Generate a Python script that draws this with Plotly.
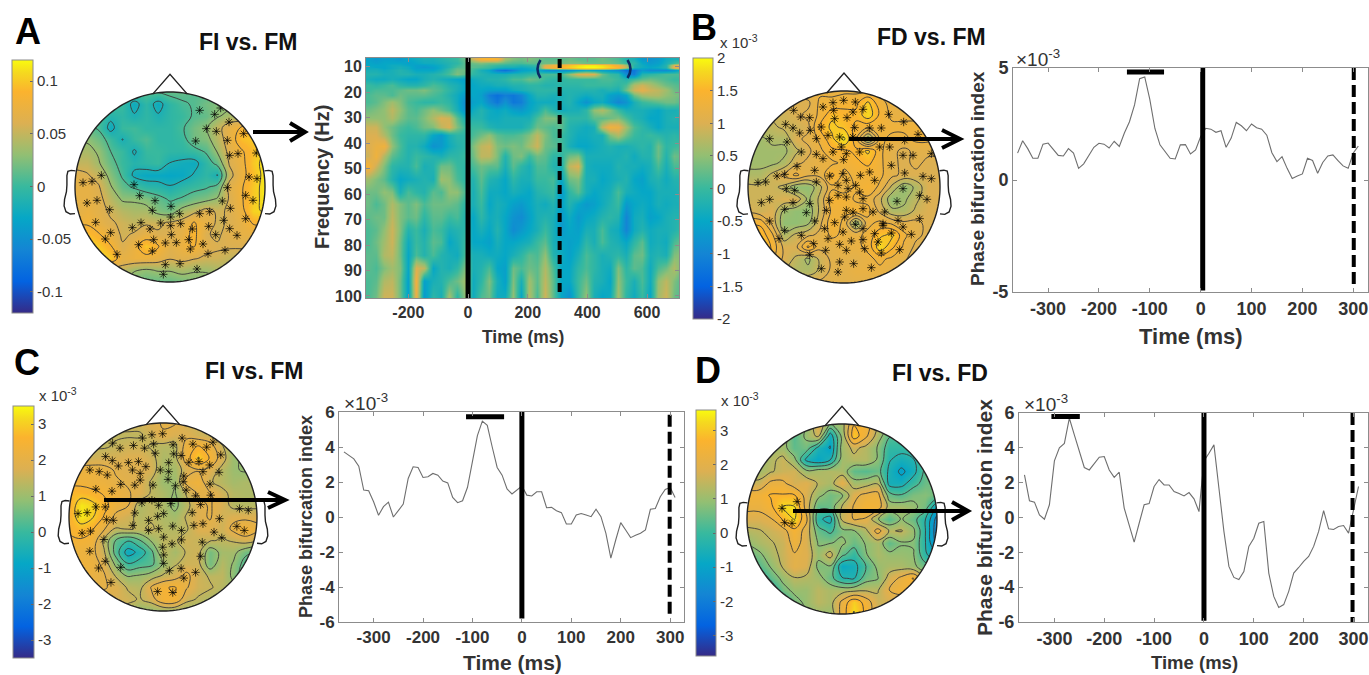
import numpy as np
import plotly.graph_objects as go

W, H = 1369, 675
PARULA = [[0, '#352a87'], [0.125, '#0363e1'], [0.25, '#1485d4'], [0.375, '#06a7c6'], [0.5, '#38b99e'],
          [0.625, '#92bf73'], [0.75, '#dcb052'], [0.875, '#fbb32e'], [0.95, '#f5d91f'], [1, '#f9fb0e']]
FONT = "Liberation Sans, Arial, sans-serif"
AXC = '#8c8c8c'
TXT = '#333333'

# ---------- time courses (x 10^-3), 10 ms steps from -360 ms ----------
TIME = list(range(-360, 320, 10))
PBI_B = [1.2,1.75,1.4,.97,.97,1.6,1.65,1.37,1.1,1.07,1.4,1.2,.52,.72,1.1,1.46,1.64,1.6,1.43,1.73,1.5,2.1,2.6,3.35,
         4.52,4.6,3.6,2.3,1.57,1.27,.97,.94,1.57,1.58,1.16,1.34,1.94,2.31,2.27,2.13,2.2,1.46,1.87,2.57,2.42,2.2,2.5,
         2.33,2.27,2.0,1.22,.82,1.04,.52,.07,.18,.27,.97,.87,.3,.78,1.07,1.12,.87,.63,.52,1.2,1.52]
PBI_C = [3.72,3.5,3.32,2.9,1.54,1.5,.87,.1,.59,.85,0,.36,.74,2.2,2.87,2.83,2.26,2.3,2.49,2.39,2.05,1.95,1.12,.82,.93,
         1.7,3.1,4.65,5.48,5.24,4.0,2.83,2.39,1.6,1.32,1.55,1.77,1.25,1.2,1.44,1.44,.53,.55,.36,.25,-.4,-.4,.11,.2,.11,
         .02,.44,.02,-.93,-2.35,-1.3,-.32,-.74,-1.18,-1.04,-.93,-.74,.44,.49,1.16,1.57,1.69,1.12]
PBI_D = [2.45,.96,.88,.15,-.1,.73,3.25,4.0,4.25,5.7,4.74,3.79,2.87,2.73,3.12,3.46,3.5,2.73,2.31,2.6,.54,-.38,-1.41,-.33,
         .73,.8,1.78,2.18,1.87,1.87,1.49,1.38,1.24,1.43,1.07,.34,3.25,3.69,4.17,1.68,-.8,-2.81,-3.44,-3.56,-3.1,-1.66,
         -1.19,-.33,-.23,-3.19,-4.53,-5.16,-5.0,-4.24,-3.19,-2.87,-2.52,-2.24,-1.66,-.8,.4,-.65,-.69,-.52,-.46,-.9,.54,1.78]

# ---------- time-frequency map (tenths of 10^-3) ----------
TF_TIME = [-335 + 27 * i for i in range(40)]
TF_FREQ = [7, 8.5, 9.2, 10, 10.7, 11.5, 13, 15, 17, 19, 21, 24, 27, 30, 33.5, 37, 41, 45, 49, 54, 59, 64, 69, 74, 79, 84, 89, 94, 100]
TF_Z = [
 [-6,-7,-6,-6,-7,-5,-4,-3,-3,-2,-1,0,3,9,14,15,14,6,4,3,4,3,2,2,2,3,2,2,2,3,2,1,-2,-3,-7,-8,-7,-4,-3,-3],
 [-5,-6,-5,-5,-5,-6,-5,-4,-4,-3,-2,-1,2,3,4,3,3,2,1,1,2,2,3,3,3,4,4,3,3,3,3,2,0,-1,-5,-7,-6,-3,0,3],
 [-5,-5,-5,-4,-4,-5,-6,-6,-5,-4,-2,0,2,2,2,1,0,-1,-1,-2,-1,0,10,13,14,16,18,19,19,18,16,13,6,-2,-4,-6,-5,-2,10,12],
 [-4,-5,-5,-4,-3,-4,-6,-7,-6,-4,-2,1,2,2,1,0,-2,-3,-3,-4,-3,-2,12,14,15,17,19,20,20,19,17,15,8,-2,-4,-5,-4,-2,12,13],
 [-4,-4,-5,-4,-3,-4,-6,-6,-6,-4,-1,2,2,1,0,-1,-4,-5,-5,-5,-4,-2,9,12,13,15,17,18,18,17,15,12,4,-4,-5,-6,-5,-3,9,11],
 [-3,-3,-4,-3,-2,-3,-5,-5,-5,-3,0,3,3,0,-3,-5,-11,-13,-10,-6,-5,-4,-8,-9,-9,-8,-6,-4,-5,-6,-7,-9,-13,-12,-7,-9,-9,-9,-7,-3],
 [-2,-2,-3,-3,-2,-2,-3,-3,-2,-1,1,4,2,-1,-2,-3,-3,-3,-2,-2,-1,0,1,1,1,5,10,11,10,3,0,-1,-9,-11,-2,-1,0,1,1,1],
 [-3,-4,-4,-3,-4,-5,-5,-3,-2,-3,-4,-5,-6,-4,-3,-2,-2,-1,1,1,3,2,0,-1,-1,0,0,0,0,1,1,0,-2,0,2,3,2,1,0,0],
 [0,-1,0,1,-1,-2,-2,-1,1,0,-2,-3,-5,-5,-4,-4,-3,-3,-2,-2,-1,-1,-2,-2,-1,-1,-1,0,0,0,0,-1,1,7,9,7,5,3,2,1],
 [0,1,1,1,2,3,3,4,2,1,-1,-3,-5,-5,-5,-6,-6,-6,-4,-3,-2,-1,-1,-1,-2,-2,-2,-2,-2,-3,-2,-3,3,9,11,9,8,6,3,2],
 [1,2,2,1,3,2,2,2,1,0,-2,-4,-7,-5,-6,-11,-13,-11,-12,-10,-5,-2,-2,-3,-3,-2,-3,-4,-3,-3,-6,-7,-5,3,6,7,7,5,4,3],
 [1,2,4,6,4,1,0,-1,-1,0,-1,-4,-9,-6,-5,-9,-12,-8,-12,-11,-6,-4,-4,-4,-3,-2,-5,-8,-5,-4,-7,-10,-8,-3,0,1,2,3,3,1],
 [3,4,5,8,5,2,1,3,5,3,1,-3,-8,-4,-2,-4,-5,-4,-6,-7,-5,-3,1,-2,-4,-3,-3,-1,5,7,4,0,-3,-3,-3,-4,-5,-3,-3,-2],
 [5,5,5,7,4,2,2,4,7,10,9,2,-3,-2,-2,-4,-4,-3,-3,-3,-3,1,4,4,2,-1,-1,-1,2,2,3,4,1,-2,-3,-5,-5,-3,-2,-3],
 [9,9,5,3,1,0,1,3,4,8,10,4,0,0,0,-2,-3,-3,-3,-3,-1,3,2,1,2,-2,-3,-4,-3,8,13,12,6,1,-1,-3,-5,-3,-3,-3],
 [10,10,7,3,0,-1,-1,-1,-5,-7,-3,-1,-1,1,3,5,2,1,1,2,4,8,4,1,0,-2,-4,-4,-3,-3,4,7,3,0,-1,0,-1,-2,-1,-2],
 [10,12,13,5,1,-2,-2,-4,-8,-7,-4,-2,-1,4,8,9,4,3,4,3,6,9,3,2,1,-3,-5,-5,-4,-3,-2,-3,-3,-2,-1,-2,3,-1,0,1],
 [9,13,7,2,0,-2,0,-1,-2,-3,-1,-1,0,3,8,8,4,-2,3,4,0,3,2,-1,-1,3,4,-3,-3,-3,-3,-3,-2,-4,-2,-2,3,-2,3,2],
 [14,9,4,-1,-2,-2,1,-3,-2,3,3,0,-1,1,3,2,2,-3,2,-1,-3,1,1,-2,-3,8,10,-3,-4,-4,-4,-2,-3,-3,-4,-3,1,-3,1,1],
 [6,4,2,-2,-5,-4,-3,-2,-3,6,5,1,-1,-2,2,-2,-3,-5,-1,-3,-3,0,0,1,-5,3,4,-3,-3,-5,-4,-3,-2,-5,-6,-3,-2,-4,-2,-2],
 [3,3,5,4,-3,1,-1,-2,2,1,5,5,1,-3,1,-4,-4,-5,-3,-4,-5,-2,-1,0,-7,-1,2,-3,-5,-4,-3,1,-3,-4,-5,-5,-3,-3,-3,-2],
 [3,1,3,7,4,2,4,1,3,3,3,2,-1,-3,0,-5,-3,-4,-6,-7,-5,-3,-4,-2,-6,-2,-5,-7,-6,-4,-2,0,-7,-5,-4,-5,-3,-4,-3,-3],
 [2,3,3,8,4,2,3,-1,2,2,0,1,-2,-5,-1,-4,-3,-5,-8,-9,-6,-3,-2,-3,-7,-4,-7,-5,-4,-2,-1,-2,-10,-4,-3,-6,-5,-3,-2,-2],
 [1,2,5,9,4,-2,0,-3,1,0,-3,-2,-1,-5,-3,-5,-2,-5,-9,-7,-5,-3,0,-3,-7,-5,-6,-3,-3,1,-3,-4,-10,-4,-2,-4,-3,-3,-2,0],
 [1,3,6,9,3,-4,0,-2,2,1,-5,-3,0,-5,-5,-6,-3,-5,-5,-4,-3,0,2,-3,-5,-6,-5,-1,-3,1,-2,-3,-5,-1,2,-4,-3,-4,1,3],
 [2,2,7,8,3,-5,1,-2,1,-2,-3,-4,1,-3,-3,-4,-4,-5,-3,-1,2,1,5,-2,-4,-6,-3,1,-1,-3,-2,-1,-3,2,3,-3,-2,-3,4,5],
 [2,1,4,6,4,-5,10,8,-5,-2,-3,-1,4,-3,-2,1,-5,-6,3,1,3,2,7,1,-5,-5,-1,1,-1,-3,-4,4,-1,2,1,-4,1,3,7,3],
 [1,2,7,8,3,-6,13,-6,-3,-2,1,3,6,-4,-1,4,-3,-6,4,-3,6,2,8,2,-5,-5,0,3,-2,-3,-5,5,0,-3,1,-4,5,8,4,1],
 [1,3,9,9,3,-6,12,-7,-1,-3,6,-1,5,-4,1,3,-4,-4,5,-5,7,1,9,2,-5,-8,0,5,-3,-5,-4,6,-1,-4,0,-5,6,9,3,1],
]

# ---------- scalp maps, 17x17 grid over the head box, top row first ----------
TOPO_A = [  # thousandths
 [10,10,10,10,10,10,10,10,15,15,10,10,10,10,10,10,10],
 [10,10,10,5,0,-25,-5,-25,-5,5,10,20,25,25,30,30,30],
 [10,10,5,-10,-5,-15,-5,-15,-5,0,10,15,30,40,35,30,30],
 [15,15,5,-25,0,3,-5,-5,-5,5,20,30,50,70,85,90,90],
 [30,30,18,0,-18,0,8,-5,-5,0,20,25,45,70,95,100,105],
 [40,40,30,8,0,-20,0,0,-5,-5,0,10,35,65,80,95,110],
 [50,50,35,15,0,-10,-5,0,-18,-22,-25,-5,15,60,75,100,115],
 [65,60,50,25,5,-22,-28,-28,-30,-28,-15,-5,-18,50,75,95,115],
 [70,70,60,35,15,5,-5,-8,-15,-5,0,5,15,65,80,100,115],
 [70,70,65,45,30,30,25,15,5,10,20,25,35,60,80,100,115],
 [65,75,65,55,45,40,40,25,20,40,50,65,55,60,75,105,110],
 [75,80,70,60,55,50,55,55,60,65,85,70,55,60,70,85,90],
 [95,95,85,70,55,60,70,60,60,70,90,60,55,65,70,70,70],
 [110,110,100,85,60,75,100,85,65,75,85,65,60,60,60,60,60],
 [110,110,110,100,70,75,75,70,60,65,60,55,55,50,50,50,50],
 [50,50,50,50,50,35,30,35,35,40,35,35,40,40,40,40,40],
 [30,30,30,30,30,20,15,15,15,20,25,25,25,25,25,25,25],
]
TOPO_B = [  # tenths of 10^-3
 [12,12,12,12,12,12,12,12,12,12,12,12,12,12,12,12,12],
 [10,10,10,10,10,10,13,13,14,14,17,13,12,11,11,11,11],
 [9,9,9,9,10,11,13,16,15,15,18,14,12,12,12,12,12],
 [8,8,8,9,9,10,15,17,16,14,13,13,13,13,13,13,13],
 [6,6,7,7,10,11,13,16,19,13,5,13,12,12,13,13,12],
 [6,6,6,6,8,10,12,14,14,15,17,13,11,10,11,11,11],
 [6,6,6,7,10,11,12,12,13,14,15,13,11,10,11,10,10],
 [7,7,9,11,13,11,11,15,12,13,13,13,11,10,10,10,10],
 [9,9,9,8,5,5,8,12,11,13,14,12,8,5,7,10,10],
 [9,9,9,10,10,6,9,14,14,12,12,9,5,6,8,10,10],
 [10,9,10,6,5,5,9,13,13,14,13,10,7,7,9,10,10],
 [14,14,10,5,5,6,10,14,12,5,12,13,12,11,11,10,10],
 [16,16,13,7,9,10,11,13,12,12,13,16,17,13,11,10,10],
 [19,19,14,10,10,15,11,11,12,12,13,18,15,12,10,10,10],
 [19,19,13,10,8,6,9,11,11,11,12,13,12,11,9,9,9],
 [13,13,11,9,7,7,9,11,11,12,12,12,11,10,9,9,9],
 [11,11,11,11,11,11,11,11,11,11,11,11,11,11,11,11,11],
]
TOPO_C = [  # tenths of 10^-3
 [16,16,16,16,16,16,16,18,20,20,16,16,16,16,16,16,16],
 [14,14,14,14,14,14,14,16,19,17,18,16,15,12,11,10,10],
 [14,14,14,14,15,16,16,14,13,13,22,25,22,15,11,9,9],
 [14,15,16,17,17,18,18,16,12,13,22,30,24,17,10,9,9],
 [22,22,22,21,19,18,18,17,11,11,17,19,18,13,10,9,10],
 [23,23,22,22,20,19,18,14,10,10,21,23,15,13,11,12,12],
 [27,27,26,24,22,20,18,14,12,9,15,20,20,16,13,12,12],
 [25,33,31,26,22,20,12,14,12,8,13,18,20,17,13,13,13],
 [25,33,30,24,18,16,13,14,12,11,15,18,20,16,18,18,18],
 [25,27,25,20,14,15,14,15,13,13,14,18,18,16,21,24,21],
 [24,24,23,13,4,0,4,10,14,14,16,15,15,14,15,17,15],
 [22,22,21,15,2,-8,-4,3,14,11,15,16,6,11,11,6,4],
 [23,23,22,18,8,0,2,3,10,14,16,16,6,13,9,2,0],
 [22,22,21,20,14,9,10,12,15,17,21,16,14,14,8,1,0],
 [20,20,20,20,18,14,13,20,24,25,20,16,15,13,11,6,6],
 [17,17,17,17,17,16,14,17,24,24,16,14,12,11,10,8,8],
 [14,14,14,14,14,12,9,9,10,10,10,9,9,9,9,9,9],
]
TOPO_D = [  # tenths of 10^-3
 [8,8,8,8,8,8,20,8,12,26,25,14,8,8,8,8,8],
 [10,10,10,12,3,10,16,-7,10,30,22,12,3,2,4,6,6],
 [10,10,11,11,4,6,-5,-10,11,16,13,8,-1,-1,1,5,6],
 [10,10,13,16,10,-5,-9,-4,11,13,13,8,-3,-6,-4,3,6],
 [11,11,14,16,17,10,12,13,12,4,3,5,-5,-11,-6,4,8],
 [16,16,22,22,17,19,14,12,20,11,12,14,-6,-6,0,5,7],
 [24,24,27,27,27,18,10,6,8,19,22,23,5,3,7,8,5],
 [22,22,25,33,33,18,4,5,15,21,25,24,12,12,10,6,-10],
 [18,18,20,27,33,22,-2,-6,16,21,20,9,3,9,5,-3,-18],
 [13,14,16,18,25,18,5,1,7,8,13,23,14,15,10,-3,-20],
 [9,12,14,16,23,18,8,8,10,5,9,12,4,8,8,-3,-18],
 [4,7,12,16,20,19,10,17,4,-1,8,12,10,10,9,-2,-10],
 [0,3,9,15,20,18,7,8,-8,-6,2,10,12,12,10,5,3],
 [-10,-5,4,10,14,13,11,5,-3,-4,6,8,17,22,27,13,9],
 [-18,-18,-5,6,10,10,14,12,12,13,14,14,21,24,22,12,9],
 [-18,-18,-12,-3,6,10,14,12,22,31,24,16,17,15,12,10,9],
 [-10,-10,-8,-3,3,8,10,10,23,33,25,16,12,12,10,9,8],
]

# ---------- significant channels, read positions (reading frame per head) ----------
STARS_A = [(250,547),(277,543),(305,525),(262,608),(292,600),(330,628),(288,666),(333,697),(317,716),(352,762),(403,553),(420,586),(466,601),(458,630),(514,618),(513,650),(540,640),(600,640),(630,634),(483,668),(424,667),(398,682),(451,686),(513,676),(543,670),(515,703),(578,686),(567,718),(417,733),(462,718),(458,752),(497,728),(530,727),(572,746),(610,731),(625,760),(676,750),(648,703),(627,678),(672,660),(690,685),(712,705),(738,655),(668,602),(692,624),(683,562),(738,585),(760,600),(748,530),(772,535),(770,458),(690,465),(715,460),(683,420),(650,393),(620,385),(588,422),(688,365),(732,400),(645,342),(663,323),(600,330),(497,793),(541,790),(592,806),(491,822)]
STARS_B = [(430,277),(462,270),(497,275),(432,300),(400,290),(520,297),(490,305),(312,300),(333,320),(360,322),(435,325),(472,322),(597,312),(642,335),(288,342),(310,353),(330,368),(240,385),(292,395),(362,360),(395,350),(415,375),(380,385),(450,380),(495,352),(540,353),(575,353),(685,372),(645,390),(490,380),(570,410),(600,410),(455,410),(510,425),(335,425),(380,432),(400,445),(430,425),(462,448),(470,430),(640,435),(670,435),(725,430),(605,465),(645,488),(700,498),(725,505),(205,517),(228,515),(262,497),(285,492),(322,468),(375,480),(420,497),(460,490),(512,495),(470,510),(540,485),(555,510),(290,535),(315,540),(380,515),(445,525),(475,535),(498,525),(510,545),(470,560),(520,565),(445,555),(420,570),(640,535),(622,573),(585,605),(690,555),(712,567),(215,577),(240,567),(310,577),(285,597),(360,580),(410,600),(350,607),(470,600),(490,605),(520,595),(550,605),(240,632),(375,632),(435,637),(465,620),(497,642),(580,645),(625,630),(640,650),(605,668),(690,625),(285,660),(405,655),(460,665),(665,672),(268,685),(335,675),(372,700),(415,685),(450,702),(485,692),(520,688),(565,695),(525,715),(408,720),(470,720),(630,718),(575,728),(360,733),(395,775),(450,755),(492,760),(445,785),(545,772),(555,670),(580,640),(520,655)]
STARS_C = [(338,310),(360,325),(400,317),(427,295),(455,285),(487,282),(433,325),(460,313),(545,295),(518,315),(577,313),(618,322),(637,307),(660,345),(520,342),(542,347),(565,367),(595,365),(627,375),(317,350),(337,362),(355,378),(385,368),(415,365),(397,390),(437,380),(465,340),(270,390),(298,395),(322,405),(420,400),(505,368),(480,390),(505,395),(503,418),(550,408),(607,395),(655,397),(628,432),(288,447),(336,453),(362,433),(404,435),(420,420),(458,435),(525,437),(548,425),(557,450),(585,467),(630,465),(316,500),(288,500),(262,517),(235,520),(340,540),(320,538),(404,518),(425,488),(455,480),(475,495),(512,490),(490,520),(600,493),(575,517),(445,540),(472,528),(445,570),(475,565),(398,555),(517,557),(543,570),(607,550),(580,555),(656,535),(716,505),(742,510),(708,558),(730,570),(640,575),(663,592),(247,578),(272,572),(312,597),(270,632),(316,662),(296,682),(333,725),(362,680),(490,590),(515,610),(543,598),(605,605),(600,647),(487,620),(490,643),(490,668),(507,690),(542,683),(585,695),(550,712),(472,752),(517,755)]
STARS_D = [(275,475),(320,455),(283,518),(305,520)]

# ---------- colour-bar ticks ----------
CB_A_VALS = [-0.1, -0.05, 0, 0.05, 0.1]
CB_A_TEXT = ['-0.1', '-0.05', '0', '0.05', '0.1']
CB_B_VALS = [-2, -1.5, -1, -0.5, 0, 0.5, 1, 1.5, 2]
CB_B_TEXT = ['-2', '-1.5', '-1', '-0.5', '0', '0.5', '1', '1.5', '2']
CB_C_VALS = [-3, -2, -1, 0, 1, 2, 3]
CB_C_TEXT = ['-3', '-2', '-1', '0', '1', '2', '3']

# ---------- helpers ----------
fig = go.Figure()
shapes, notes = [], []
layout = {}
n_ax = [0]


def fx(x):
    return x / W


def fy(y):
    return 1 - y / H


def new_axes(x0, x1, y0, y1, xr, yr, **common):
    n_ax[0] += 1
    k = n_ax[0]
    ax_x = dict(domain=[fx(x0), fx(x1)], range=xr, anchor=f'y{k}', showgrid=False, zeroline=False)
    ax_y = dict(domain=[fy(y1), fy(y0)], range=yr, anchor=f'x{k}', showgrid=False, zeroline=False)
    layout[f'xaxis{k}'] = ax_x
    layout[f'yaxis{k}'] = ax_y
    return k, ax_x, ax_y


def text(x, y, s, size, bold=False, angle=0, color=TXT, anchor='center'):
    notes.append(dict(x=fx(x), y=fy(y), xref='paper', yref='paper', text=s, showarrow=False, textangle=angle,
                      xanchor=anchor, yanchor='middle',
                      font=dict(family=FONT, size=size, color=color, weight=700 if bold else 400)))


def colorbar(x0, x1, y0, y1, vals, labels):
    return dict(x=fx(x0), xanchor='left', y=fy((y0 + y1) / 2), yanchor='middle', thickness=x1 - x0, thicknessmode='pixels',
                len=y1 - y0, lenmode='pixels', xpad=0, ypad=0, outlinecolor=AXC, outlinewidth=1, tickvals=vals,
                ticktext=labels, ticks='inside', ticklen=3, tickcolor='#666', tickwidth=1,
                tickfont=dict(family=FONT, size=15, color=TXT))


GRID = np.linspace(-1, 1, 17)
RANGE = 1.25
ANG = np.linspace(0, 2 * np.pi, 181)
CIRC_X, CIRC_Y = np.cos(ANG), np.sin(ANG)
NOSE = [(-0.18, -0.98), (0, -1.186), (0.18, -0.98)]
EAR = [(-0.995, -0.17), (-1.04, -0.175), (-1.075, -0.165), (-1.085, -0.12), (-1.085, -0.02), (-1.09, 0.05),
       (-1.11, 0.13), (-1.115, 0.2), (-1.095, 0.26), (-1.05, 0.285), (-1.0, 0.28)]


def poly(pts, close=False):
    s = 'M' + ' L'.join(f'{a:.4f},{b:.4f}' for a, b in pts)
    return s + (' Z' if close else '')


def topo(cx, cy, r, z, scale, vmax, levels, stars, read_c, read_r, cbar=None):
    R = r * RANGE
    k, _, _ = new_axes(cx - R, cx + R, cy - R, cy + R, [-RANGE, RANGE], [RANGE, -RANGE], )
    layout[f'xaxis{k}'].update(visible=False)
    layout[f'yaxis{k}'].update(visible=False)
    zz = np.array(z, dtype=float) * scale
    fig.add_trace(go.Heatmap(x=GRID, y=GRID, z=zz, zmin=-vmax, zmax=vmax, colorscale=PARULA, zsmooth='best',
                             showscale=cbar is not None, colorbar=cbar, hoverinfo='skip', xaxis=f'x{k}', yaxis=f'y{k}'))
    fig.add_trace(go.Contour(x=GRID, y=GRID, z=zz, showscale=False, hoverinfo='skip', xaxis=f'x{k}', yaxis=f'y{k}',
                             contours=dict(coloring='none', start=levels[0], end=levels[1], size=levels[2]),
                             line=dict(color='#3a3a3a', width=0.9, smoothing=1.1)))
    sx = [(a - read_c[0]) / read_r for a, b in stars]
    sy = [(b - read_c[1]) / read_r for a, b in stars]
    fig.add_trace(go.Scatter(x=sx, y=sy, mode='markers', hoverinfo='skip', xaxis=f'x{k}', yaxis=f'y{k}',
                             marker=dict(symbol='asterisk-open', size=7, color='black', line=dict(color='black', width=0.7))))
    ref = dict(xref=f'x{k}', yref=f'y{k}', layer='above')
    box = 1.09
    mask = poly([(-box, -box), (box, -box), (box, box), (-box, box)], True) + ' ' + poly(list(zip(CIRC_X, CIRC_Y)), True)
    shapes.append(dict(type='path', path=mask, fillcolor='white', fillrule='evenodd', line=dict(width=0), **ref))
    outline = dict(color='#222', width=1.4)
    shapes.append(dict(type='path', path=poly(list(zip(CIRC_X, CIRC_Y)), True), line=outline, **ref))
    shapes.append(dict(type='path', path=poly(NOSE), line=outline, **ref))
    shapes.append(dict(type='path', path=poly(EAR), line=outline, **ref))
    shapes.append(dict(type='path', path=poly([(-a, b) for a, b in EAR]), line=outline, **ref))


def vline(k, x, y0, y1, width, dash='solid'):
    fig.add_trace(go.Scatter(x=[x, x], y=[y0, y1], mode='lines', cliponaxis=False, hoverinfo='skip', xaxis=f'x{k}', yaxis=f'y{k}',
                             line=dict(color='black', width=width, dash=dash)))


def style_axis(ax, vals, labels, size):
    ax.update(tickvals=vals, ticktext=labels, ticks='inside', ticklen=4, tickcolor=AXC, showline=True, linecolor=AXC,
              linewidth=1, mirror='ticks', tickfont=dict(family=FONT, size=size, color=TXT, weight=700))


def lineplot(box, xr, yr, series, yticks, zero, dashed, bar, size):
    k, ax, ay = new_axes(box[0], box[1], box[2], box[3], xr, yr)
    xt = [-300, -200, -100, 0, 100, 200, 300]
    style_axis(ax, xt, [str(v) for v in xt], size)
    style_axis(ay, yticks, [str(v) for v in yticks], size)
    fig.add_trace(go.Scatter(x=TIME, y=series, mode='lines', hoverinfo='skip', xaxis=f'x{k}', yaxis=f'y{k}',
                             line=dict(color='#6e6e6e', width=1.1)))
    vline(k, zero[0], zero[1], zero[2], 5)
    vline(k, dashed[0], dashed[1], dashed[2], 4, '12px,5px')
    fig.add_trace(go.Scatter(x=[bar[0], bar[1]], y=[bar[2], bar[2]], mode='lines', cliponaxis=False, hoverinfo='skip',
                             xaxis=f'x{k}', yaxis=f'y{k}', line=dict(color='black', width=5)))


def arrow(x0, x1, y, back, half):
    shapes.append(dict(type='line', xref='paper', yref='paper', x0=fx(x0), x1=fx(x1 - 2), y0=fy(y), y1=fy(y),
                       line=dict(color='black', width=4), layer='above'))
    p = f'M{fx(x1 - back)},{fy(y - half)} L{fx(x1)},{fy(y)} L{fx(x1 - back)},{fy(y + half)}'
    shapes.append(dict(type='path', xref='paper', yref='paper', path=p, line=dict(color='black', width=4), layer='above'))


# ---------- A ----------
topo(170, 187, 95, TOPO_A, 0.001, 0.12, (-0.017, 0.108, 0.025), STARS_A, (511, 560), 285,
     colorbar(12, 33, 60, 313, CB_A_VALS, CB_A_TEXT))

k, ax, ay = new_axes(366, 679, 58, 298, [-342, 707], [100.8, 6.6])
style_axis(ax, [-200, 0, 200, 400, 600], ['-200', '0', '200', '400', '600'], 16)
style_axis(ay, list(range(10, 101, 10)), [str(v) for v in range(10, 101, 10)], 16)
fig.add_trace(go.Heatmap(x=TF_TIME, y=TF_FREQ, z=np.array(TF_Z) * 0.1, zmin=-2, zmax=2, colorscale=PARULA, zsmooth='best',
                         hoverinfo='skip', xaxis=f'x{k}', yaxis=f'y{k}', colorbar=colorbar(693, 713, 58, 319, CB_B_VALS, CB_B_TEXT)))
vline(k, 0, 6.2, 100.8, 5)
vline(k, 307, 7, 99.5, 4, '9px,5px')
for bx, d in ((537.5, 3), (630.5, -3)):
    p = f'M{fx(bx + d)},{fy(60)} Q{fx(bx - d)},{fy(69)} {fx(bx + d)},{fy(78)}'
    shapes.append(dict(type='path', xref='paper', yref='paper', path=p, line=dict(color='#0b2a66', width=2.6), layer='above'))

# ---------- B ----------
topo(844, 187, 96, TOPO_B, 0.1, 2, (0.45, 2.05, 0.2), STARS_B, (463, 530), 288)
lineplot((1013, 1368, 68, 292), [-369, 329], [-5, 5], PBI_B, [-5, 0, 5], (4, 5, -4.93), (301, 5, -4.75), (-145, -72, 4.82), 18)

# ---------- C ----------
topo(163, 517, 94, TOPO_C, 0.1, 3.5, (-0.55, 3.45, 0.5), STARS_C, (488, 530), 280,
     colorbar(13, 34, 406, 658, CB_C_VALS, CB_C_TEXT))
lineplot((339, 684, 412, 622), [-370, 328], [-6, 6], PBI_C, [-6, -4, -2, 0, 2, 4, 6], (0, 6, -5.8), (299, 5.85, -5.6), (-113, -36, 5.73), 17)

# ---------- D ----------
topo(842, 519, 95, TOPO_D, 0.1, 3.6, (-1.55, 3.25, 0.6), STARS_D, (455, 507), 285,
     colorbar(696, 716, 410, 656, CB_C_VALS, CB_C_TEXT))
lineplot((1019, 1368, 413, 622), [-371, 329], [-6, 6], PBI_D, [-6, -4, -2, 0, 2, 4, 6], (0, 6, -5.93), (298, 6, -6.15), (-306, -249, 5.8), 18)

# ---------- arrows ----------
arrow(253, 305, 132, 15, 9)
arrow(849, 960, 139, 18, 9)
arrow(104, 285, 500, 17, 8)
arrow(793, 968, 511, 16, 9)

# ---------- text ----------
for s, x, y in (('A', 28, 31), ('B', 704, 28), ('C', 27, 362), ('D', 708, 370)):
    text(x, y, s, 36, True, color='black')
for s, x, y in (('FI vs. FM', 248, 42), ('FD vs. FM', 931, 37), ('FI vs. FM', 254, 371), ('FI vs. FD', 940, 373)):
    text(x, y, s, 23, True, color='#111')
text(322, 177, 'Frequency (Hz)', 20, True, -90)
text(523, 337, 'Time (ms)', 17.5, True)
text(977, 179, 'Phase bifurcation index', 19, True, -90)
text(1191, 336, 'Time (ms)', 22, True)
text(306, 517, 'Phase bifurcation index', 18, True, -90)
text(512, 662, 'Time (ms)', 21, True)
text(984, 518, 'Phase bifurcation index', 21, True, -90)
text(1194, 662, 'Time (ms)', 18.5, True)
EXP = 'x 10<sup>-3</sup>'
TIMES = '×10<sup>-3</sup>'
text(718, 42, EXP, 15, anchor='left')
text(37, 394, EXP, 15, anchor='left')
text(719, 399, EXP, 15, anchor='left')
text(1014, 58, TIMES, 19, anchor='left')
text(342, 402, TIMES, 19, anchor='left')
text(1022, 403, TIMES, 19, anchor='left')

fig.update_layout(width=W, height=H, margin=dict(l=0, r=0, t=0, b=0, autoexpand=False), paper_bgcolor='white',
                  plot_bgcolor='white', showlegend=False, shapes=shapes, annotations=notes, **layout)
fig.write_html("out.html", config={'displayModeBar': False},
               post_script="document.body.style.margin='0';document.body.style.overflow='hidden';")
